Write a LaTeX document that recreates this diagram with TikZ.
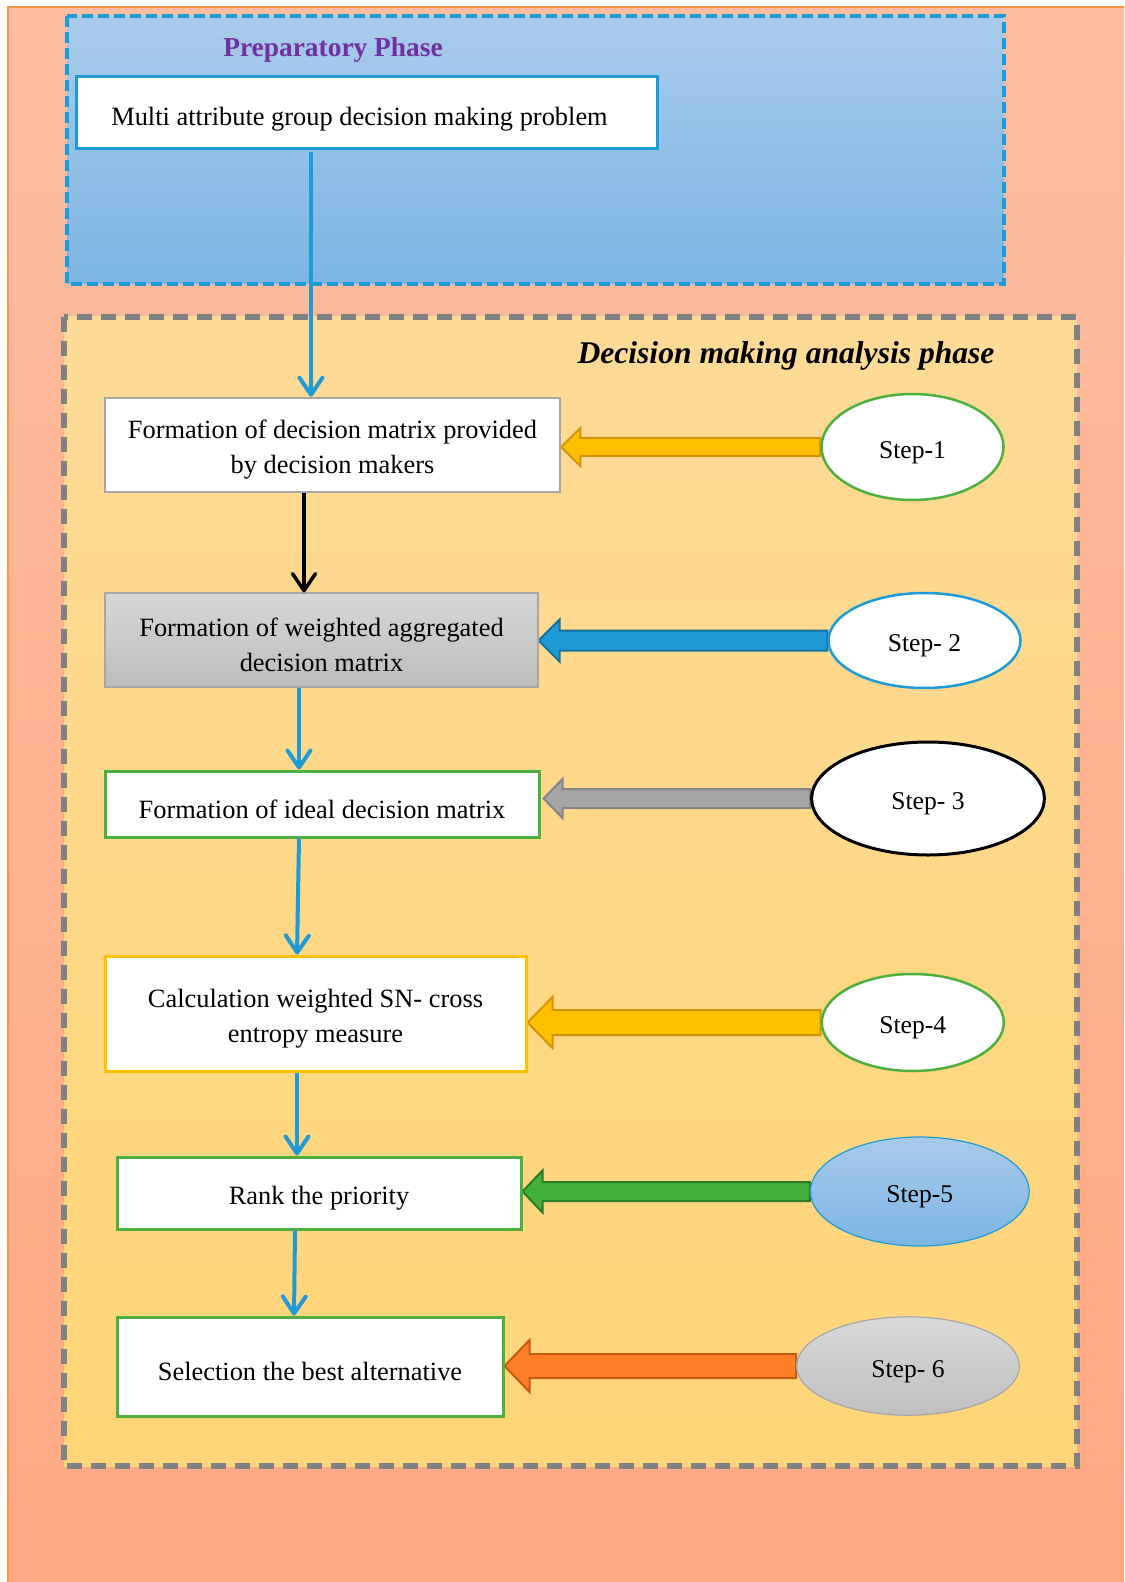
\documentclass[tikz,border=0pt]{standalone}
\usepackage{fontspec}
\setmainfont{Liberation Serif}
\usetikzlibrary{arrows.meta,shapes.geometric,calc}
\pgfdeclarelayer{back}\pgfdeclarelayer{mid}\pgfsetlayers{back,mid,main}
\definecolor{peachtop}{HTML}{FCBDA0}
\definecolor{peachbot}{HTML}{FEA883}
\definecolor{orangeline}{HTML}{F79646}
\definecolor{bluetop}{HTML}{A9CBEB}
\definecolor{bluebot}{HTML}{7CB5E3}
\definecolor{yeltop}{HTML}{FDDA97}
\definecolor{yelbot}{HTML}{FFD577}
\definecolor{blueline}{HTML}{1E9BD7}
\definecolor{dashgray}{HTML}{808080}
\definecolor{boxgray}{HTML}{A6A6A6}
\definecolor{grn}{HTML}{4DAF3E}
\definecolor{gold}{HTML}{FFC000}
\definecolor{golddark}{HTML}{D3940B}
\definecolor{bluedark}{HTML}{16729E}
\definecolor{arrgray}{HTML}{A5A5A5}
\definecolor{arrgraydark}{HTML}{848484}
\definecolor{arrgreen}{HTML}{43B03A}
\definecolor{arrgreendark}{HTML}{2C7A24}
\definecolor{arrorange}{HTML}{FF7F27}
\definecolor{arrorangedark}{HTML}{C55A11}
\definecolor{purp}{HTML}{7030A0}
\newcommand\blockarrow[6]{%
  \begin{pgfonlayer}{mid}
  \path[#6] let \p1=(#1), \p2=(#2) in
    (\x1,\y1+#3) -- (\x2+#5,\y1+#3) -- (\x2+#5,\y1+#4) -- (\x2,\y1)
    -- (\x2+#5,\y1-#4) -- (\x2+#5,\y1-#3) -- (\x1,\y1-#3) -- cycle;
  \end{pgfonlayer}}
\tikzset{
  txt/.style={font=\fontsize{13.2}{17.5}\selectfont},
  box/.style={rectangle, fill=white, inner sep=0pt},
  boxtext/.style={label={[txt,align=center,yshift=-2.5pt]center:{#1}}},
  stepell/.style={ellipse, inner sep=0pt, fill=white},
  steptext/.style={label={[font=\fontsize{12.8}{15}\selectfont,yshift=-2.8pt]center:{#1}}},
  conn/.style={draw=blueline, line width=2pt, -{Straight Barb[length=8.5pt,width=11.5pt,round]}},
  bconn/.style={draw=black, line width=1.75pt, -{Straight Barb[length=8.5pt,width=11.5pt,round]}},
}
\begin{document}
\begin{tikzpicture}[x=0.5pt,y=-0.5pt]
\useasboundingbox (0,0) rectangle (1124,1582);
\begin{pgfonlayer}{back}
  \fill[white] (0,0) rectangle (1124,1582);
  \shade[top color=peachtop, bottom color=peachbot] (8,7) rectangle (1124,1582);
  \draw[orangeline, line width=0.8pt] (8,1582) -- (8,7) -- (1124,7);
  \shade[top color=bluetop, bottom color=bluebot] (67,16) rectangle (1004,284);
  \draw[blueline, line width=1.75pt, dash pattern=on 5.5pt off 2.5pt] (67,16) rectangle (1004,284);
  \shade[top color=yeltop, bottom color=yelbot] (64,317) rectangle (1077,1466);
  \draw[dashgray, line width=3pt, dash pattern=on 7.5pt off 4.5pt] (64,317) rectangle (1077,1466);
\end{pgfonlayer}

\node[font=\fontsize{13.7}{16}\selectfont\bfseries, text=purp] (t0) at (333,50) {Preparatory Phase};
\node[font=\fontsize{15.8}{18}\selectfont\bfseries\itshape] (t1) at (786,356) {Decision making analysis phase};

\node[box, draw=blueline, line width=1.5pt, minimum width=290.5pt, minimum height=36pt] (b0) at (366.5,113) {};
\node[txt] (b0t) at ([xshift=-3.5pt,yshift=-3pt]b0.center) {Multi attribute group decision making problem};
\node[box, draw=boxgray, line width=1.25pt, minimum width=227.5pt, minimum height=47pt,
  boxtext={Formation of decision matrix provided\\by decision makers}] (b1) at (332.5,445) {};
\node[box, draw=boxgray, line width=0.6pt, top color=black!16, bottom color=black!26, minimum width=216.5pt, minimum height=47pt,
  boxtext={Formation of weighted aggregated\\decision matrix}] (b2) at (321.5,640) {};
\node[box, draw=grn, line width=1.5pt, minimum width=217pt, minimum height=33pt,
  boxtext={Formation of ideal decision matrix}] (b3) at (322,804) {};
\node[box, draw=gold, line width=1.5pt, minimum width=210.5pt, minimum height=57.5pt,
  boxtext={Calculation weighted SN- cross\\entropy measure}] (b4) at (315.5,1013.5) {};
\node[box, draw=grn, line width=1.5pt, minimum width=202pt, minimum height=36pt,
  boxtext={Rank the priority}] (b5) at (319,1193) {};
\node[box, draw=grn, line width=1.5pt, minimum width=193pt, minimum height=49.5pt,
  boxtext={Selection the best alternative}] (b6) at (310,1366.5) {};

\node[stepell, draw=grn, line width=1.25pt, minimum width=91pt, minimum height=53pt, steptext={Step-1}] (s1) at (912.5,447) {};
\node[stepell, draw=blueline, line width=1.25pt, minimum width=96pt, minimum height=47.5pt, steptext={Step- 2}] (s2) at (924.5,640.5) {};
\node[stepell, draw=black, line width=1.5pt, minimum width=116.4pt, minimum height=56.5pt, steptext={Step- 3}] (s3) at (928,798.5) {};
\node[stepell, draw=grn, line width=1.25pt, minimum width=91pt, minimum height=48.5pt, steptext={Step-4}] (s4) at (912.8,1022.5) {};
\node[stepell, draw=blueline, line width=0.6pt, top color=bluetop, bottom color=bluebot, minimum width=109.4pt, minimum height=54.5pt, steptext={Step-5}] (s5) at (919.8,1191.5) {};
\node[stepell, draw=boxgray, line width=0.6pt, top color=black!15, bottom color=black!25, minimum width=111.4pt, minimum height=49.2pt, steptext={Step- 6}] (s6) at (908,1366) {};

\blockarrow{s1.west}{b1.east}{4.5pt}{9.5pt}{9.5pt}{fill=gold, draw=golddark, line width=1pt}
\blockarrow{s2.west}{b2.east}{5pt}{10.5pt}{10.5pt}{fill=blueline, draw=bluedark, line width=1pt}
\blockarrow{s3.west}{[xshift=1.5pt]b3.east}{4.75pt}{9.75pt}{9.5pt}{fill=arrgray, draw=arrgraydark, line width=1pt}
\blockarrow{s4.west}{b4.east}{6.25pt}{12.75pt}{12.5pt}{fill=gold, draw=golddark, line width=1pt}
\blockarrow{s5.west}{b5.east}{4.75pt}{10.5pt}{10pt}{fill=arrgreen, draw=arrgreendark, line width=1pt}
\blockarrow{s6.west}{b6.east}{6pt}{13pt}{12.5pt}{fill=arrorange, draw=arrorangedark, line width=1pt}

\coordinate (c0) at (311,152);
\draw[conn] (c0) -- (c0 |- b1.north);
\draw[bconn] ([xshift=-14.25pt]b1.south) -- ([xshift=-14.25pt]b1.south |- b2.north);
\draw[conn] ([xshift=-11.25pt]b2.south) -- ([xshift=-11.25pt]b2.south |- b3.north);
\draw[conn] ([xshift=-11.5pt]b3.south) -- ([xshift=-9.25pt]b4.north);
\draw[conn] ([xshift=-9.25pt]b4.south) -- ([xshift=-11pt]b5.north);
\draw[conn] ([xshift=-12pt]b5.south) -- ([xshift=-8pt]b6.north);
\end{tikzpicture}
\end{document}
